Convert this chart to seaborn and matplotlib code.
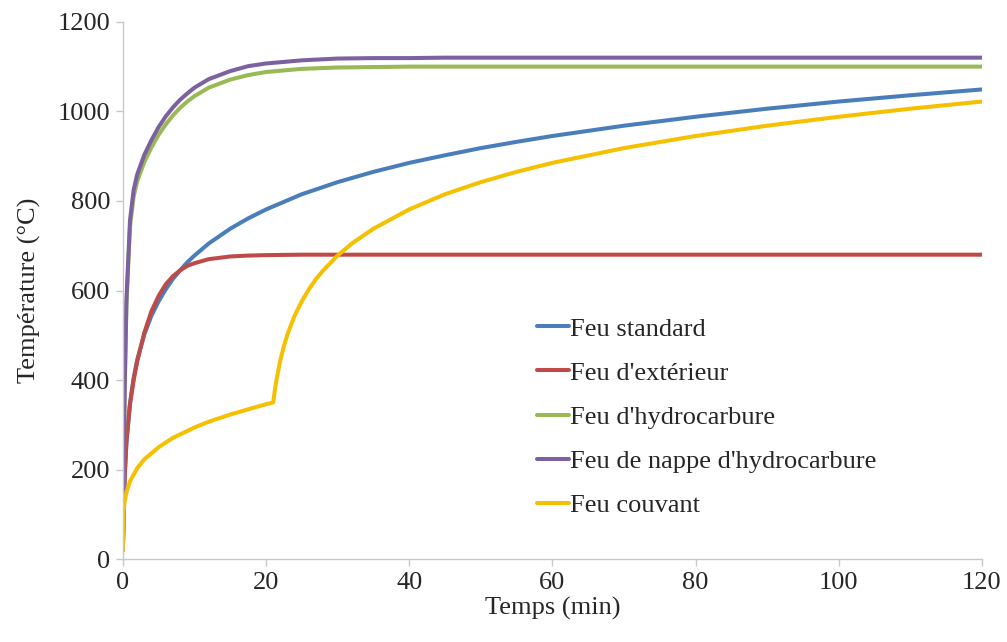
import matplotlib
matplotlib.use("Agg")
import matplotlib.pyplot as plt
import pandas as pd
import seaborn as sns

# Valeurs (temps en min, température en °C)
t_courbes = [0, 0.25, 0.5, 1, 1.5, 2, 3, 4, 5, 6, 7, 8, 9, 10, 12, 15, 17.5,
             20, 25, 30, 35, 40, 45, 50, 55, 60, 70, 80, 90, 100, 110, 120]
feu_standard = [20, 185, 261, 349, 404, 445, 502, 544, 576, 603, 626, 645, 663,
                678, 705, 738, 761, 781, 815, 842, 865, 885, 902, 918, 932, 945,
                968, 988, 1006, 1022, 1036, 1049]
feu_exterieur = [20, 182, 263, 346, 399, 441, 506, 554, 588, 614, 632, 645, 655,
                 661, 670, 676, 678, 679, 680, 680, 680, 680, 680, 680, 680, 680,
                 680, 680, 680, 680, 680, 680]
feu_hydrocarbure = [20, 373, 568, 743, 809, 844, 887, 920, 948, 971, 991, 1008,
                    1022, 1034, 1053, 1071, 1081, 1088, 1095, 1098, 1099, 1100,
                    1100, 1100, 1100, 1100, 1100, 1100, 1100, 1100, 1100, 1100]
feu_nappe = [20, 380, 579, 757, 824, 859, 903, 936, 965, 989, 1009, 1026, 1040,
             1053, 1072, 1090, 1101, 1107, 1114, 1118, 1119, 1119, 1120, 1120,
             1120, 1120, 1120, 1120, 1120, 1120, 1120, 1120]

t_couvant = [0, 0.1, 0.25, 0.5, 1, 2, 3, 5, 7, 10, 12, 15, 18, 20, 21, 21.25,
             21.5, 22, 22.5, 23, 24, 25, 26, 27, 28, 30, 32, 35, 40, 45, 50, 55,
             60, 70, 80, 90, 100, 110, 120]
feu_couvant = [20, 107, 129, 149, 174, 203, 223, 250, 271, 294, 307, 323, 337,
               346, 350, 379, 404, 444, 476, 502, 544, 576, 603, 626, 645, 678,
               705, 738, 781, 815, 842, 865, 885, 918, 945, 968, 988, 1006, 1022]

noms = ["Feu standard", "Feu d'extérieur", "Feu d'hydrocarbure",
        "Feu de nappe d'hydrocarbure", "Feu couvant"]
couleurs = ["#4a7ebb", "#be4b48", "#98b954", "#7d60a0", "#f5c000"]

# Tableau long pour seaborn
frames = []
for nom, t, v in [(noms[0], t_courbes, feu_standard),
                  (noms[1], t_courbes, feu_exterieur),
                  (noms[2], t_courbes, feu_hydrocarbure),
                  (noms[3], t_courbes, feu_nappe),
                  (noms[4], t_couvant, feu_couvant)]:
    frames.append(pd.DataFrame({"Temps": t, "Température": v, "Courbe": nom}))
data = pd.concat(frames, ignore_index=True)

sns.set_style("white")
plt.rcParams["font.family"] = ["Liberation Serif", "DejaVu Serif"]

fig = plt.figure(figsize=(10.07, 6.42), dpi=100)
ax = fig.add_axes([0.122, 0.129, 0.853, 0.837])

sns.lineplot(data=data, x="Temps", y="Température", hue="Courbe",
             hue_order=noms, palette=couleurs, estimator=None,
             linewidth=2.9, ax=ax)

ax.set_xlim(0, 120)
ax.set_ylim(0, 1200)
ax.set_xticks(range(0, 121, 20))
ax.set_yticks(range(0, 1201, 200))
ax.tick_params(axis="both", labelsize=19, length=5, width=1, color="#c8c8c8",
               direction="out", bottom=True, left=True, pad=4)
ax.set_xlabel("Temps (min)", fontsize=19, labelpad=2)
ax.set_ylabel("Température (°C)", fontsize=19, labelpad=12)

for s in ["top", "right"]:
    ax.spines[s].set_visible(False)
for s in ["left", "bottom"]:
    ax.spines[s].set_color("#c8c8c8")
    ax.spines[s].set_linewidth(1)

leg = ax.legend(loc="upper left", bbox_to_anchor=(0.47, 0.47), frameon=False,
                fontsize=19, handlelength=1.2, handletextpad=0.05,
                labelspacing=0.78, borderaxespad=0)

fig.savefig("out.png", dpi=100)
